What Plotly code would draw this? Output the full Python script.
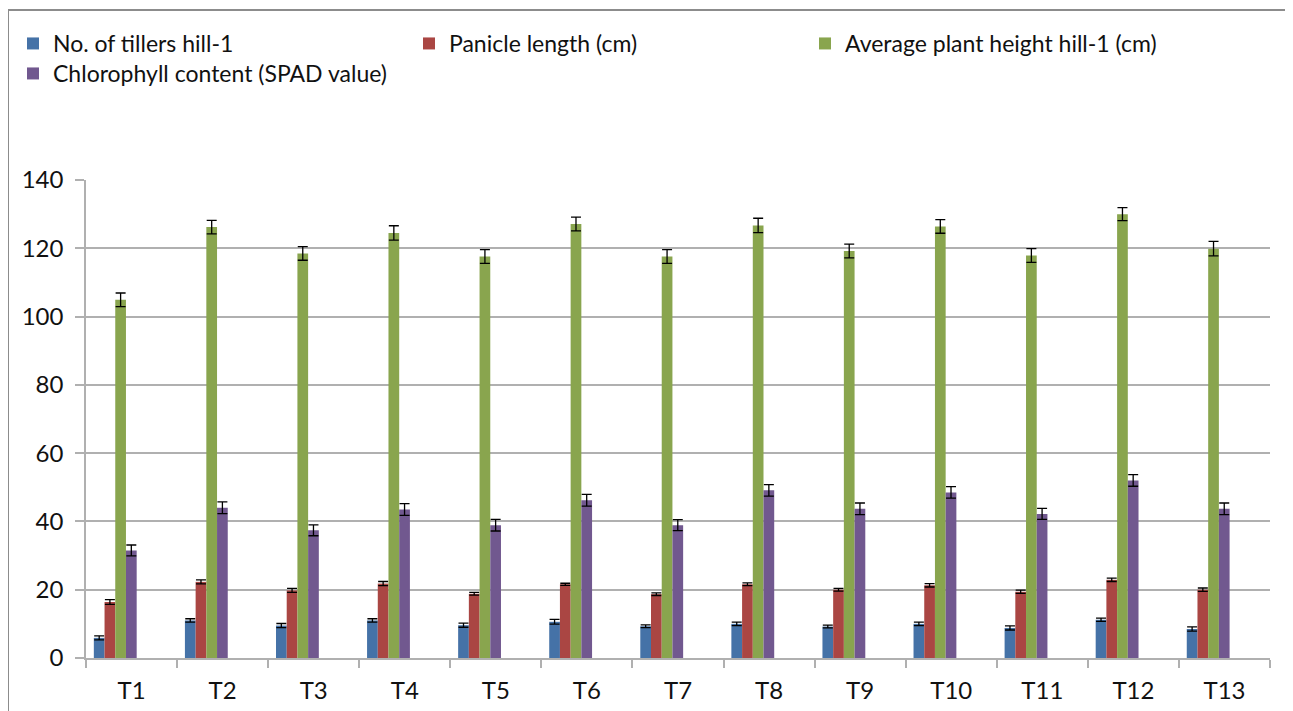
import plotly.graph_objects as go

categories = ["T1", "T2", "T3", "T4", "T5", "T6", "T7", "T8", "T9", "T10", "T11", "T12", "T13"]

series_names = [
    "No. of tillers hill-1",
    "Panicle length (cm)",
    "Average plant height hill-1 (cm)",
    "Chlorophyll content (SPAD value)",
]

tillers = [5.9, 11.0, 9.5, 11.0, 9.6, 10.6, 9.3, 10.0, 9.2, 10.0, 8.8, 11.2, 8.5]
tillers_err = [0.6, 0.5, 0.6, 0.5, 0.6, 0.7, 0.4, 0.5, 0.4, 0.5, 0.6, 0.5, 0.6]

panicle = [16.4, 22.3, 19.8, 21.8, 18.8, 21.6, 18.7, 21.6, 20.0, 21.3, 19.4, 22.9, 20.0]
panicle_err = [0.7, 0.6, 0.6, 0.6, 0.4, 0.3, 0.4, 0.4, 0.4, 0.5, 0.5, 0.5, 0.5]

height = [104.9, 126.2, 118.5, 124.5, 117.6, 127.1, 117.6, 126.7, 119.2, 126.4, 117.9, 130.0, 119.9]
height_err = [2.0, 2.0, 2.0, 2.1, 2.0, 2.0, 2.0, 2.1, 2.0, 2.0, 2.0, 1.9, 2.1]

chlorophyll = [31.5, 44.0, 37.4, 43.5, 38.9, 46.2, 38.9, 49.1, 43.7, 48.5, 42.2, 52.0, 43.7]
chlorophyll_err = [1.6, 1.7, 1.6, 1.7, 1.7, 1.7, 1.6, 1.7, 1.7, 1.7, 1.6, 1.7, 1.7]

colors = ["#4572A7", "#AA4643", "#89A54E", "#71588F"]
values = [tillers, panicle, height, chlorophyll]
errors = [tillers_err, panicle_err, height_err, chlorophyll_err]
legend_rows = ["legend", "legend", "legend", "legend2"]

FONT = "Lato, Carlito, 'Open Sans', sans-serif"
GRID = "#b0b0b0"
TEXT = "#111111"

# the page body adds an 8px margin, so the figure is laid out 8px smaller
W, H = 1285, 703
ML, MR, MT, MB = 78, 23, 172, 53

bar_w = 0.1176
first_offset = -0.414

fig = go.Figure()
for i, (name, vals, errs, col, lg) in enumerate(zip(series_names, values, errors, colors, legend_rows)):
    fig.add_trace(go.Bar(
        name=name,
        x=categories,
        y=vals,
        legend=lg,
        marker=dict(color=col, line=dict(width=0)),
        width=bar_w,
        offset=first_offset + i * bar_w,
        error_y=dict(type="data", array=errs, visible=True,
                     color="#000000", thickness=1.3, width=5),
    ))

# outer chart border (left and top visible)
plot_w = W - ML - MR
plot_h = H - MT - MB
fig.add_shape(type="rect", xref="paper", yref="paper",
              x0=(0 - ML) / plot_w, x1=(W + 20 - ML) / plot_w,
              y0=-(MB + 20) / plot_h, y1=(plot_h + MT - 2) / plot_h,
              line=dict(color="#8c8c8c", width=2), fillcolor="rgba(0,0,0,0)",
              layer="below")

legend_common = dict(
    orientation="h",
    xref="container", yref="container",
    xanchor="left", yanchor="top",
    entrywidth=351, entrywidthmode="pixels",
    font=dict(family=FONT, size=23, color=TEXT),
    traceorder="normal",
    bgcolor="rgba(0,0,0,0)",
)

fig.update_layout(
    width=W, height=H,
    margin=dict(l=ML, r=MR, t=MT, b=MB, autoexpand=False),
    paper_bgcolor="white", plot_bgcolor="white",
    barmode="group",
    font=dict(family=FONT, size=24, color=TEXT),
    showlegend=True,
    legend=dict(x=5 / W, y=1 - 14 / H, **legend_common),
    legend2=dict(x=5 / W, y=1 - 44 / H, **legend_common),
    xaxis=dict(
        type="category",
        showline=True, linecolor=GRID, linewidth=1.5,
        ticks="outside", tickson="boundaries", ticklen=8, tickcolor=GRID, tickwidth=1.5,
        showgrid=False,
        tickfont=dict(family=FONT, size=24, color=TEXT),
        ticklabelstandoff=10,
    ),
    yaxis=dict(
        range=[0, 140], tick0=0, dtick=20,
        showline=True, linecolor=GRID, linewidth=1.5,
        ticks="outside", ticklen=9, tickcolor=GRID, tickwidth=1.5,
        showgrid=True, gridcolor=GRID, gridwidth=1.5,
        zeroline=False,
        tickfont=dict(family=FONT, size=24, color=TEXT),
        ticklabelstandoff=7,
    ),
)

fig.write_html("out.html")
